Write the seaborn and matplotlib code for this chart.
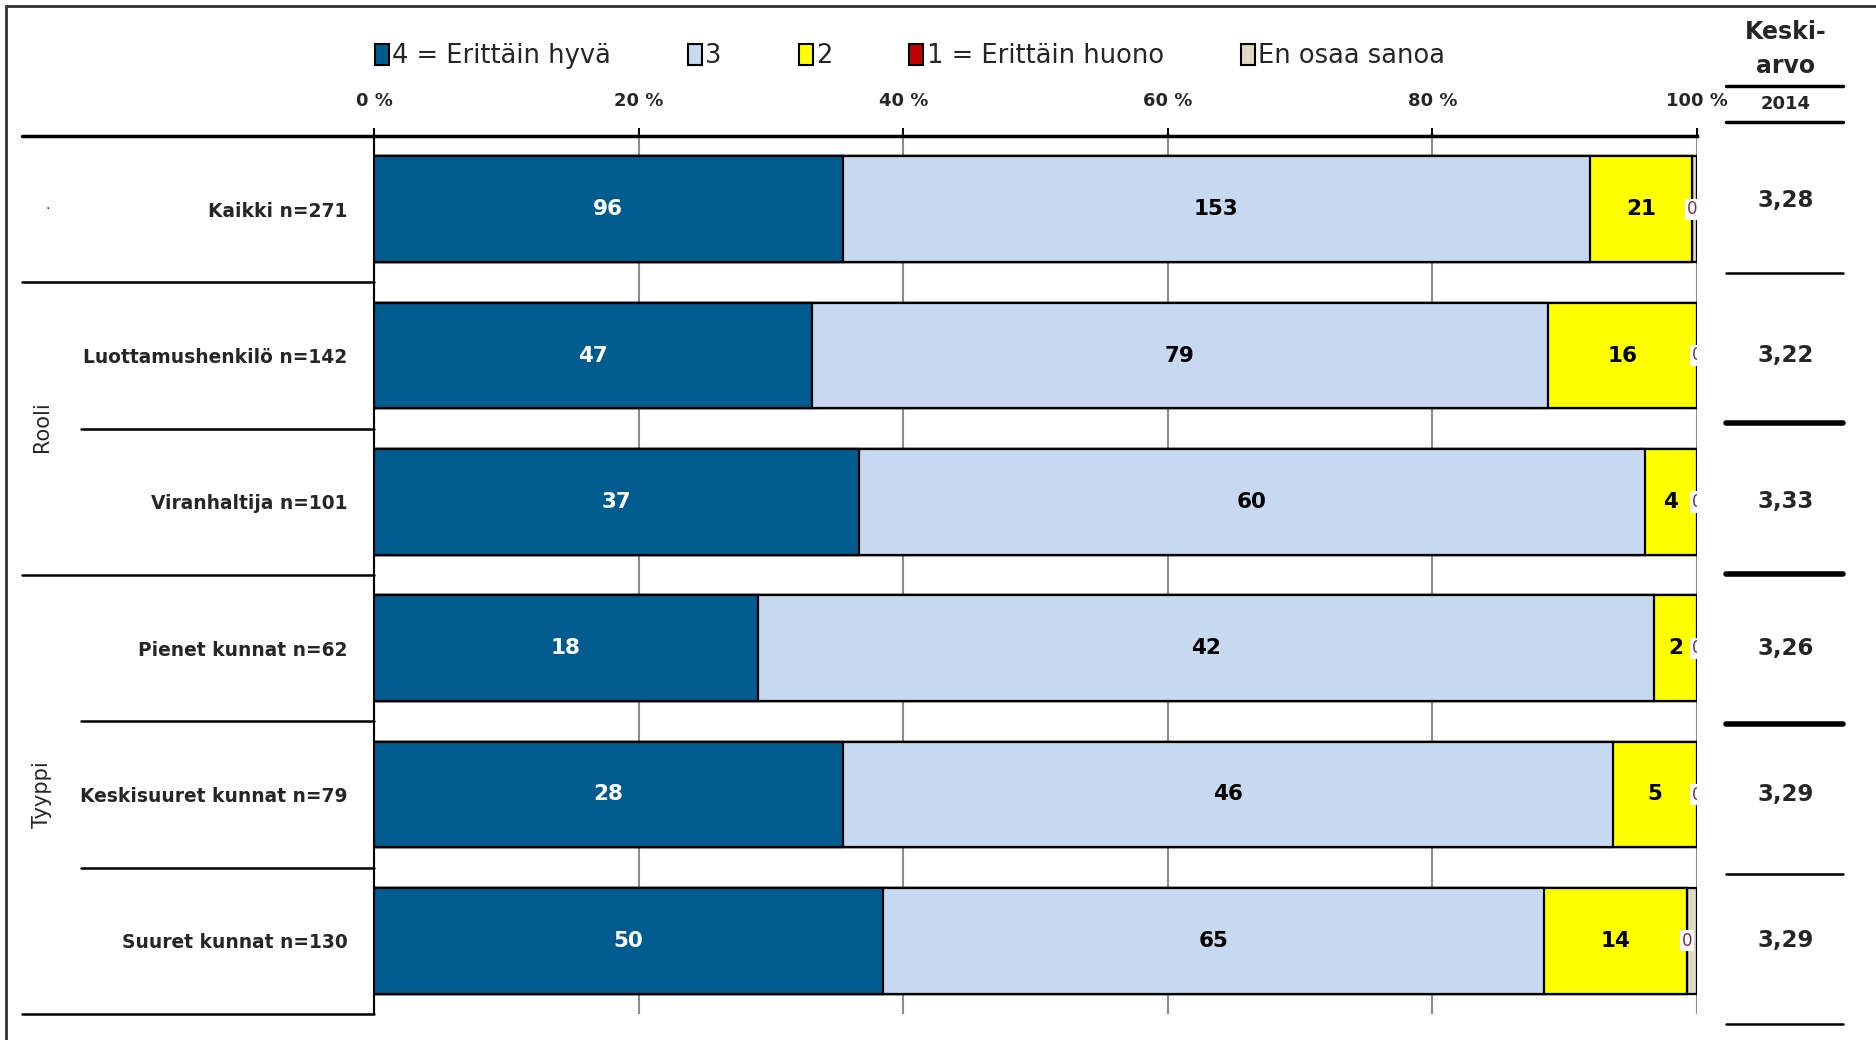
import pandas as pd
import matplotlib.pyplot as plt
import seaborn as sns
from matplotlib.patches import Patch
from matplotlib.lines import Line2D


labels = ["Kaikki n=271", "Luottamushenkilö n=142", "Viranhaltija n=101",
          "Pienet kunnat n=62", "Keskisuuret kunnat n=79", "Suuret kunnat n=130"]
hyva = [96, 47, 37, 18, 28, 50]        # 4 = Erittäin hyvä
kolme = [153, 79, 60, 42, 46, 65]      # 3
kaksi = [21, 16, 4, 2, 5, 14]          # 2
huono = [0, 0, 0, 0, 0, 0]             # 1 = Erittäin huono
eos = [1, 0, 0, 0, 0, 1]               # En osaa sanoa
keskiarvo = ["3,28", "3,22", "3,33", "3,26", "3,29", "3,29"]

series_names = ["4 = Erittäin hyvä", "3", "2", "1 = Erittäin huono", "En osaa sanoa"]
colors = ["#005b8f", "#c6d9f0", "#ffff00", "#c00000", "#ddd9c3"]
text_colors = ["white", "black", "black", "white", "black"]
ticks = [0, 20, 40, 60, 80, 100]

sns.set_style("white")
plt.rcParams["font.family"] = ["DejaVu Sans"]

df = pd.DataFrame({"label": labels, "s0": hyva, "s1": kolme, "s2": kaksi,
                   "s3": huono, "s4": eos})
cols = ["s0", "s1", "s2", "s3", "s4"]
df["total"] = df[cols].sum(axis=1)
for c in cols:
    df["p" + c] = df[c] / df["total"] * 100
df_cum = df[["p" + c for c in cols]].cumsum(axis=1)
for i, c in enumerate(cols):
    df["cum" + c] = df_cum["p" + c]

fig = plt.figure(figsize=(18.76, 10.4), dpi=100)
ax = fig.add_axes([374 / 1876, 26 / 1040, 1323 / 1876, 878 / 1040])

# stacked bars: draw cumulative totals from the largest down
for i in range(len(cols) - 1, -1, -1):
    sns.barplot(data=df, x="cum" + cols[i], y="label", color=colors[i], saturation=1,
                edgecolor="black", linewidth=1.6, orient="h", width=0.72,
                errorbar=None, ax=ax, zorder=3)

# segment labels
for r in range(len(labels)):
    for i, c in enumerate(cols[:4]):
        val = df.loc[r, c]
        mid = df.loc[r, "cum" + c] - df.loc[r, "p" + c] / 2
        if val > 0:
            ax.text(mid, r, str(val), ha="center", va="center", fontsize=15.5,
                    fontweight="bold", color=text_colors[i], zorder=5)
        elif i == 3:
            ax.text(mid, r, "0", ha="center", va="center", fontsize=12,
                    color="#7a2a5a", zorder=5, clip_on=True,
                    bbox=dict(boxstyle="square,pad=0.1", fc="white", ec="none"))

ax.set_xlim(0, 100)
ax.set_ylim(5.5, -0.5)
ax.set_xlabel("")
ax.set_ylabel("")
ax.xaxis.tick_top()
ax.set_xticks(ticks)
ax.set_xticklabels([f"{t} %" for t in ticks], fontsize=13, fontweight="bold")
ax.tick_params(axis="x", direction="out", length=6, width=1.5, color="black", pad=13)
ax.tick_params(axis="y", length=0, pad=19)
for lab in ax.get_yticklabels():
    lab.set_fontsize(13.4)
    lab.set_fontweight("bold")
ax.grid(axis="x", color="#8c8c8c", linewidth=1.5)
ax.set_axisbelow(True)
for s in ["right", "bottom"]:
    ax.spines[s].set_visible(False)
ax.spines["top"].set_linewidth(2.5)
ax.spines["top"].set_color("black")
ax.spines["left"].set_linewidth(1.5)
ax.spines["left"].set_color("black")


def px(p):
    return (p - 374) / 1323


def py(p):
    return (p - 136) / 146.33 - 0.5


tr = ax.get_yaxis_transform()

# left label area separators
ax.plot([px(22), 0], [-0.5, -0.5], color="black", lw=2.5, transform=tr, clip_on=False)
seps = [(0.5, px(22)), (1.5, px(81)), (2.5, px(22)), (3.5, px(81)), (4.5, px(81)), (5.5, px(22))]
for yv, x0 in seps:
    ax.plot([x0, 0], [yv, yv], color="black", lw=1.8, transform=tr, clip_on=False)

ax.text(px(48), 0, "·", ha="center", va="center", fontsize=10, transform=tr)
ax.text(px(42), py(427), "Rooli", rotation=90, ha="center", va="center",
        fontsize=15, transform=tr)
ax.text(px(42), py(795), "Tyyppi", rotation=90, ha="center", va="center",
        fontsize=15, transform=tr)

# right column: Keskiarvo 2014
xr0, xr1, xrc = px(1726), px(1843), px(1786)
ax.text(xrc, py(32), "Keski-", ha="center", va="center", fontsize=17,
        fontweight="bold", transform=tr)
ax.text(xrc, py(66), "arvo", ha="center", va="center", fontsize=17,
        fontweight="bold", transform=tr)
ax.text(xrc, py(104), "2014", ha="center", va="center", fontsize=13,
        fontweight="bold", transform=tr)
for yp, lw in [(86, 2.5), (122, 2.5), (273, 1.8), (423, 4), (574, 4), (724, 4),
               (874, 1.8), (1024, 1.8)]:
    ax.plot([xr0, xr1], [py(yp), py(yp)], color="black", lw=lw, transform=tr,
            clip_on=False)
for r, m in enumerate(keskiarvo):
    ax.text(xrc, r - 0.06 if r == 0 else r, m, ha="center", va="center",
            fontsize=16.5, fontweight="bold", transform=tr)

# legend
handles = [Patch(facecolor=c, edgecolor="black", linewidth=1.5) for c in colors]
ax.legend(handles, series_names, ncol=5, loc="center", bbox_to_anchor=(0.405, 1.091),
          frameon=False, fontsize=18.5, handlelength=0.55, handleheight=0.9,
          handletextpad=0.12, columnspacing=3.0)

# outer frame (left and top only visible)
fig.add_artist(Line2D([6 / 1876, 1], [1 - 6 / 1040, 1 - 6 / 1040], color="#333333", lw=2))
fig.add_artist(Line2D([6 / 1876, 6 / 1876], [0, 1 - 6 / 1040], color="#333333", lw=2))

plt.savefig("out.png", dpi=100, facecolor="white")
